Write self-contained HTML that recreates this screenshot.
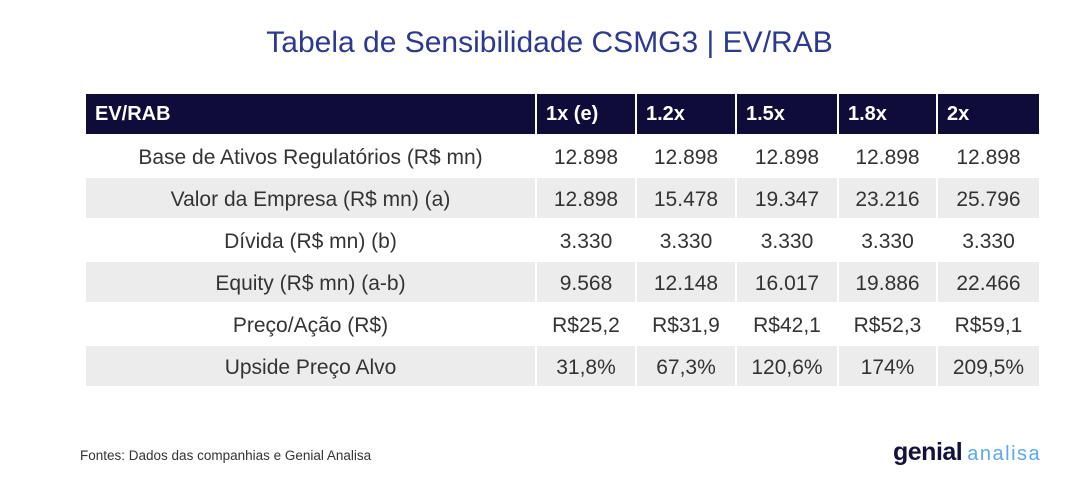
<!DOCTYPE html>
<html><head><meta charset="utf-8"><style>
body{margin:0;width:1073px;height:486px;background:#fff;font-family:"Liberation Sans",sans-serif;position:relative;overflow:hidden}
.t{position:absolute;top:26px;left:0;width:1073px;text-align:center;font-size:30px;color:#2b3990;padding-left:26px;box-sizing:border-box}
.c{position:absolute;box-sizing:border-box;display:flex;align-items:center;justify-content:center;font-size:21px;color:#333;padding-top:3px}
.h{background:#0f0c3a;color:#fff;font-weight:bold;justify-content:flex-start;padding-left:9px;font-size:20px;padding-top:0}
.g{background:#ececec}
.f{position:absolute;left:80px;top:448px;font-size:13.5px;color:#333}
.logo{position:absolute;left:893px;top:438px;font-size:25px;font-weight:bold;color:#13123a;letter-spacing:-0.5px}
.logo span{font-weight:normal;color:#5aa9f0;font-size:20px;letter-spacing:1.5px;margin-left:5px}
</style></head><body>
<div class="t">Tabela de Sensibilidade CSMG3 | EV/RAB</div>
<div id="tb"></div>
<div class="f">Fontes: Dados das companhias e Genial Analisa</div>
<div class="logo">genial<span>analisa</span></div>
<script>
var xs=[86,537,637,737,839,938,1039];
var rows=[["EV/RAB","1x (e)","1.2x","1.5x","1.8x","2x"],
["Base de Ativos Regulatórios (R$ mn)","12.898","12.898","12.898","12.898","12.898"],
["Valor da Empresa (R$ mn) (a)","12.898","15.478","19.347","23.216","25.796"],
["Dívida (R$ mn) (b)","3.330","3.330","3.330","3.330","3.330"],
["Equity (R$ mn) (a-b)","9.568","12.148","16.017","19.886","22.466"],
["Preço/Ação (R$)","R$25,2","R$31,9","R$42,1","R$52,3","R$59,1"],
["Upside Preço Alvo","31,8%","67,3%","120,6%","174%","209,5%"]];
var h="";
rows.forEach(function(r,i){
 var y=i==0?94:136+(i-1)*42, hh=40;
 r.forEach(function(v,j){
  var cls="c"+(i==0?" h":(i%2==0?" g":""));
  var w=xs[j+1]-xs[j]-(j<5?2:0);
  h+='<div class="'+cls+'" style="left:'+xs[j]+'px;top:'+y+'px;width:'+w+'px;height:'+hh+'px">'+v+'</div>';
 });
});
document.getElementById("tb").innerHTML=h;
</script>
</body></html>
